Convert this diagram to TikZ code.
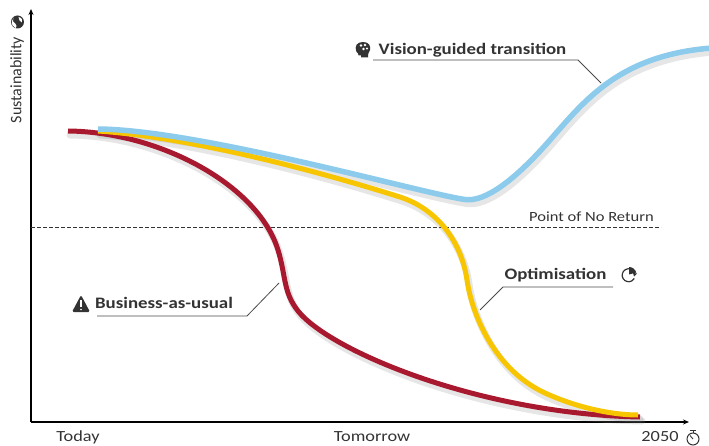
\documentclass[tikz,border=0pt]{standalone}
\usepackage{fontspec}
\setmainfont{Carlito}[FakeStretch=1.18]
\newfontfamily\plainfont{Carlito}
\usetikzlibrary{arrows.meta}
\definecolor{bauRed}{HTML}{A8192F}
\definecolor{optYellow}{HTML}{F7C600}
\definecolor{visBlue}{HTML}{8CCBEB}
\definecolor{txtGray}{HTML}{333333}
\definecolor{leadGray}{HTML}{4A4A4A}
\tikzset{
  axisline/.style={line width=1.1pt, -{Stealth[length=6pt,width=5pt]}},
  curveshadow/.style={line width=7pt, gray, opacity=0.2, line cap=round},
  curve/.style={line width=5pt, line cap=butt},
  boldlabel/.style={font=\fontsize{16}{18}\selectfont\bfseries, text=txtGray, inner sep=0pt},
  ticklabel/.style={font=\fontsize{15.5}{17}\selectfont, text=txtGray, inner sep=0pt},
  pnrlabel/.style={font=\fontsize{14}{16}\selectfont, text=txtGray, inner sep=0pt},
  leader/.style={leadGray, line width=0.8pt},
  iconfill/.style={fill=txtGray, draw=none},
}
\begin{document}
\begin{tikzpicture}[x=1pt,y=-1pt]
\useasboundingbox (0,0) rectangle (709,446);

% axes
\coordinate (origin) at (31,422);
\coordinate (ytop) at (31,9);
\coordinate (xend) at (689,422);
\draw[axisline] (origin) -- (ytop);
\draw[axisline] (origin) -- (xend);

% point of no return
\coordinate (pnrA) at (31,227);
\coordinate (pnrB) at (661,227);
\draw[line width=0.8pt, dash pattern=on 3.5pt off 2.5pt, black!80] (pnrA) -- (pnrB);
\node[pnrlabel] (pnr) at (591.5,217) {Point of No Return};

% curve shadows
\begin{scope}[shift={(2,4)}]
\draw[curveshadow] (68,131) .. controls (160,132) and (258,185) .. (278,250)
  .. controls (286,276) and (283,292) .. (298,311)
  .. controls (330,351) and (480,414) .. (640,417);
\draw[curveshadow] (98,131) .. controls (200,138) and (340,178) .. (400,197)
  .. controls (440,210) and (462,245) .. (467,280)
  .. controls (472,315) and (495,370) .. (545,393)
  .. controls (580,409) and (615,415) .. (638,415);
\draw[curveshadow] (98,129) .. controls (200,130) and (420,193) .. (465,199.5)
  .. controls (485,202.4) and (515,180) .. (550,140)
  .. controls (585,100) and (620,55) .. (712,48);
\end{scope}

% business as usual
\draw[curve, bauRed] (68,131) .. controls (160,132) and (258,185) .. (278,250)
  .. controls (286,276) and (283,292) .. (298,311)
  .. controls (330,351) and (480,414) .. (640,417);
% optimisation
\draw[curve, optYellow] (98,131) .. controls (200,138) and (340,178) .. (400,197)
  .. controls (440,210) and (462,245) .. (467,280)
  .. controls (472,315) and (495,370) .. (545,393)
  .. controls (580,409) and (615,415) .. (638,415);
% vision
\draw[curve, visBlue, line width=5.5pt] (98,129) .. controls (200,130) and (420,193) .. (465,199.5)
  .. controls (485,202.4) and (515,180) .. (550,140)
  .. controls (585,100) and (620,55) .. (712,48);

% labels
\node[boldlabel] (vgt) at (472.5,50) {Vision-guided transition};
\coordinate (vgtA) at (373,60);
\coordinate (vgtB) at (578,60);
\coordinate (vgtC) at (601,83);
\draw[leader] (vgtA) -- (vgtB) -- (vgtC);

\node[boldlabel] (opt) at (555.5,275) {Optimisation};
\coordinate (optA) at (613,287);
\coordinate (optB) at (503,287);
\coordinate (optC) at (480,310);
\draw[leader] (optA) -- (optB) -- (optC);

\node[boldlabel] (bau) at (164,303) {Business-as-usual};
\coordinate (bauA) at (97,316);
\coordinate (bauB) at (247,316);
\coordinate (bauC) at (279,283);
\draw[leader] (bauA) -- (bauB) -- (bauC);

% axis labels
\node[font=\plainfont\fontsize{16}{18}\selectfont, text=txtGray, inner sep=0pt, rotate=90] (sus) at (17,80) {Sustainability};
\node[ticklabel] (today) at (78,437) {Today};
\node[ticklabel] (tomorrow) at (372,437) {Tomorrow};
\node[ticklabel] (y2050) at (660,437) {2050};

% icons
% globe
\node[circle, iconfill, minimum size=13pt, inner sep=0pt] (globe) at (17.5,22) {};
\fill[white] (14,17.5) .. controls (12,20) and (13,23) .. (15.5,24) .. controls (17.5,25) and (16.5,27) .. (15.5,28) .. controls (13,27) and (11.5,24.5) .. (12,21) -- cycle;
\fill[white] (18.5,17) .. controls (21.5,17.5) and (23,20) .. (22,22.5) .. controls (20,21.5) and (18.5,20) .. (18.5,17) -- cycle;
% head
\node[inner sep=0pt, minimum size=15pt] (head) at (363,50) {};
\fill[txtGray] (356.5,52) .. controls (354,46) and (357,42) .. (363,42)
  .. controls (369,42) and (371,46) .. (370,50)
  .. controls (369.5,52) and (368,53) .. (368,55) -- (368,57.5) -- (361,57.5) -- (361,55.5)
  .. controls (359,56) and (357.5,55) .. (358,53.5) -- cycle;
\fill[white] (361,45.5) circle (1.4pt);
\fill[white] (365,45) circle (1.4pt);
\fill[white] (363.5,49) circle (1.3pt);
\fill[white] (367,48.5) circle (1.1pt);
% warning triangle
\fill[txtGray, rounded corners=1.5pt] (81,295) -- (90,312) -- (72,312) -- cycle;
\fill[white] (80.2,300) rectangle (81.8,307);
\fill[white] (81,309.5) circle (0.9pt);
\node[inner sep=0pt, minimum size=17pt] (warn) at (81,304) {};
% optimisation icon
\node[inner sep=0pt, minimum size=14pt] (opticon) at (628,275.5) {};
\draw[txtGray, line width=1.2pt] (634.3,272) arc (30:330:6.5pt);
\fill[txtGray] (629,274.5) -- (629,267) arc (90:15:7.5pt) -- cycle;
\fill[txtGray] (633,273) -- (637,273.5) -- (634,276.5) -- cycle;
% stopwatch
\draw[txtGray, line width=1pt] (693,439) circle (6pt);
\draw[txtGray, line width=1pt] (693,433) -- (693,430.5);
\draw[txtGray, line width=1pt] (690,430.5) -- (696,430.5);
\draw[txtGray, line width=0.9pt] (693,439) -- (690,435.5);
\node[inner sep=0pt, minimum size=13pt] (watch) at (693,439) {};
\end{tikzpicture}
\end{document}
